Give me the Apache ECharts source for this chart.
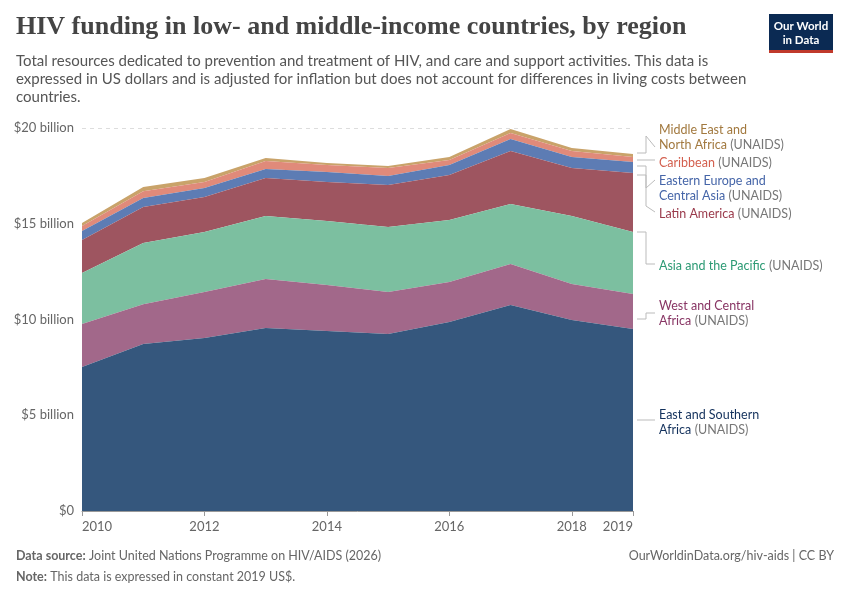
<!DOCTYPE html>
<html><head><meta charset="utf-8">
<script src="https://cdn.jsdelivr.net/npm/echarts@6/dist/echarts.min.js"></script>
<style>body{margin:0;background:#fff}#c{width:850px;height:600px}</style>
</head><body><div id="c"></div>
<script>
const years = ['2010','2011','2012','2013','2014','2015','2016','2017','2018','2019'];
const eastSouthernAfrica = [7.52,8.72,9.03,9.56,9.40,9.24,9.87,10.76,9.97,9.50];
const westCentralAfrica = [2.25,2.08,2.41,2.55,2.40,2.20,2.09,2.14,1.88,1.83];
const asiaPacific = [2.66,3.19,3.13,3.29,3.34,3.39,3.24,3.13,3.55,3.24];
const latinAmerica = [1.72,1.88,1.83,1.99,2.04,2.19,2.35,2.77,2.51,3.08];
const easternEurope = [0.47,0.47,0.47,0.47,0.52,0.47,0.52,0.63,0.58,0.57];
const caribbean = [0.26,0.36,0.31,0.42,0.37,0.42,0.26,0.31,0.31,0.27];
const mena = [0.16,0.22,0.21,0.15,0.10,0.10,0.16,0.21,0.16,0.15];
const yTicks = ['$0','$5 billion','$10 billion','$15 billion','$20 billion'];

const seriesDefs = [
 [eastSouthernAfrica,'#35577d'],[westCentralAfrica,'#a2688a'],[asiaPacific,'#7cbfa0'],
 [latinAmerica,'#9e5560'],[easternEurope,'#5d7cb4'],[caribbean,'#e08a7a'],[mena,'#c9a36a']];
const ch = echarts.init(document.getElementById('c'));
const F = 'Lato, sans-serif';
const labels = [
 [122,'{a|Middle East and}\n{a|North Africa} {b|(UNAIDS)}','#a2793f'],
 [155,'{a|Caribbean} {b|(UNAIDS)}','#d35f4e'],
 [173,'{a|Eastern Europe and}\n{a|Central Asia} {b|(UNAIDS)}','#4565a8'],
 [206,'{a|Latin America} {b|(UNAIDS)}','#9a3a4b'],
 [258,'{a|Asia and the Pacific} {b|(UNAIDS)}','#2c9a74'],
 [298,'{a|West and Central}\n{a|Africa} {b|(UNAIDS)}','#883564'],
 [407,'{a|East and Southern}\n{a|Africa} {b|(UNAIDS)}','#13315c']];
const graphics = [
 {type:'text',left:16,top:14,style:{text:'HIV funding in low- and middle-income countries, by region',font:'600 26px "Liberation Serif", serif',fill:'#444'}},
 {type:'text',left:16,top:52,style:{text:'Total resources dedicated to prevention and treatment of HIV, and care and support activities. This data is\nexpressed in US dollars and is adjusted for inflation but does not account for differences in living costs between\ncountries.',font:'15px Lato',fill:'#555',lineHeight:18}},
 {type:'rect',left:769,top:14,shape:{width:64,height:38},style:{fill:'#0b2a53'}},
 {type:'rect',left:769,top:50,shape:{width:64,height:3},style:{fill:'#c0392b'}},
 {type:'text',x:801,y:19,style:{text:'Our World\nin Data',font:'bold 11.5px Lato',fill:'#fff',align:'center',lineHeight:14}},
 {type:'text',left:16,top:549,style:{rich:{b:{font:'bold 12.5px Lato',fill:'#666'},n:{font:'12.5px Lato',fill:'#666'}},text:'{b|Data source:} {n|Joint United Nations Programme on HIV/AIDS (2026)}'}},
 {type:'text',left:16,top:570,style:{rich:{b:{font:'bold 12.5px Lato',fill:'#666'},n:{font:'12.5px Lato',fill:'#666'}},text:'{b|Note:} {n|This data is expressed in constant 2019 US$.}'}},
 {type:'text',right:16,top:549,style:{text:'OurWorldinData.org/hiv-aids | CC BY',font:'12.5px Lato',fill:'#666',align:'right'}}
];
labels.forEach(l=>graphics.push({type:'text',left:659,top:l[0],style:{text:l[1],lineHeight:15,rich:{a:{fill:l[2],font:'12.5px Lato'},b:{fill:'#777',font:'12.5px Lato'}}}}));
const leaders=[[153,136,147],[160,160,160],[166,188,180],[175,206,212],[232,264,264],[319,313,313],[420,420,420]];
leaders.forEach(p=>graphics.push({type:'polyline',shape:{points:[[637,p[0]],[646,p[0]],[646,p[1]],[655,p[2]]]},style:{stroke:'#bbb',lineWidth:1,fill:null}}));
ch.setOption({
 animation:false,
 textStyle:{fontFamily:F},
 grid:{left:82,right:217,top:128,bottom:89},
 xAxis:{type:'category',data:years,boundaryGap:false,
  axisLine:{lineStyle:{color:'#999'}},
  axisTick:{alignWithLabel:true,length:5,lineStyle:{color:'#999'},interval:(i)=>i%2===0||i===9},
  axisLabel:{color:'#666',fontSize:13,interval:(i)=>i%2===0||i===9,margin:9,alignMinLabel:'left',alignMaxLabel:'right'}},
 yAxis:{type:'value',min:0,max:20,interval:5,
  axisLabel:{color:'#666',fontSize:13,formatter:(v)=>yTicks[v/5]},
  splitLine:{lineStyle:{color:'#ddd',type:[4,4]}}},
 series:seriesDefs.map((s,i)=>({type:'line',stack:'t',data:s[0],symbol:'none',
  lineStyle:{width:0},areaStyle:{color:s[1],opacity:1},z:10-i})),
 graphic:graphics
});
</script></body></html>
